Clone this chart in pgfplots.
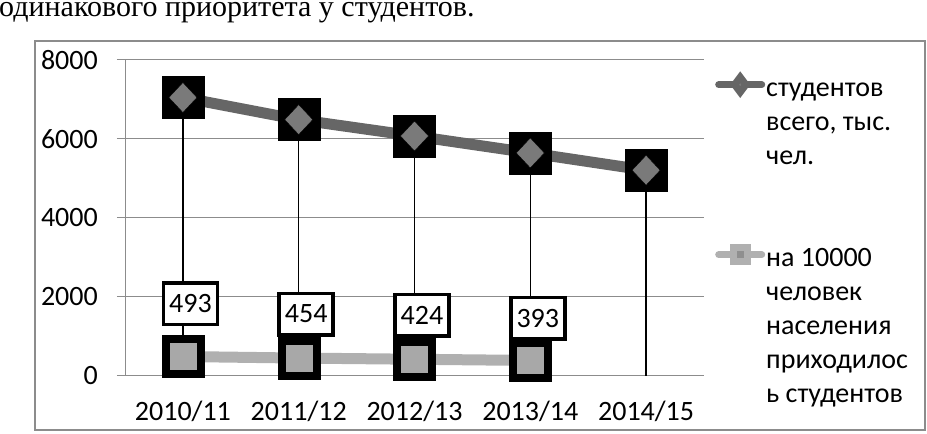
\documentclass[border=0pt]{standalone}
\usepackage{fontspec}
\setmainfont{Carlito}
\newfontfamily\timesf{Liberation Serif}
\usepackage{pgfplots}
\pgfplotsset{compat=1.18}
\usepackage{pgfplotstable}
\definecolor{sone}{HTML}{666666}
\definecolor{stwo}{HTML}{B0B0B0}
\definecolor{mone}{HTML}{7A7A7A}
\definecolor{mtwo}{HTML}{A8A8A8}
\definecolor{gridc}{HTML}{8C8C8C}
\definecolor{framec}{HTML}{8C8C8C}

\pgfplotstableread{
x y
0 7050
1 6490
2 6075
3 5647
4 5209
}\tone
\pgfplotstableread{
x y dy
0 493 53
1 454 44
2 424 44
3 393 42
}\ttwo

\begin{document}
\begin{tikzpicture}[x=1bp,y=1bp]
\useasboundingbox (0,0) rectangle (927,434);
\draw[framec, line width=1.5bp] (35,4) rectangle (925,393);
\node[anchor=base west, inner sep=0pt, font=\timesf\fontsize{30bp}{36bp}\selectfont] at (-1,417) {одинакового приоритета у студентов.};
\begin{axis}[
 at={(125bp,58bp)}, anchor=south west,
 scale only axis, width=579bp, height=316bp,
 xmin=-0.5, xmax=4.5, ymin=0, ymax=8000,
 axis lines*=left,
 axis line style={gridc, line width=1bp},
 ymajorgrids, grid style={gridc, line width=1bp},
 ytick={0,2000,4000,6000,8000},
 xtick={0,1,2,3,4},
 xticklabels={2010/11,2011/12,2012/13,2013/14,2014/15},
 tick align=outside,
 major tick length=8bp,
 ytick style={gridc, line width=1bp},
 xtick style={draw=none},
 tick label style={font=\fontsize{28bp}{34bp}\selectfont, inner sep=0pt},
 yticklabel style={anchor=east, xshift=-19bp},
 xticklabel style={anchor=north, yshift=-17bp},
 /pgf/number format/assume math mode=true,
 /pgf/number format/1000 sep={},
 scaled y ticks=false,
 clip=false,
 legend style={at={(1.019,0.9614)}, anchor=north west, draw=none, fill=none,
   inner sep=0pt, row sep=0pt, column sep=1bp,
   cells={anchor=base west},
   nodes={inner sep=0pt, text height=23.8bp, text depth=10.2bp},
   font=\fontsize{28bp}{34bp}\selectfont},
 legend image code/.code={\draw[mark repeat=2,mark phase=2,#1, line cap=round] plot coordinates {(3.5bp,11.5bp) (25bp,11.5bp) (46.5bp,11.5bp)};},
]
% black backing squares
\addplot[only marks, mark=square*, mark size=21bp, mark options={fill=black, draw=none}, forget plot] table[x=x,y=y]{\tone};
\addplot[only marks, mark=square*, mark size=21bp, mark options={fill=black, draw=none}, forget plot] table[x=x,y=y]{\ttwo};
% lines
\addplot[sone, line width=11bp, mark=none, forget plot] table[x=x,y=y]{\tone};
\addplot[stwo, line width=11bp, mark=none, forget plot] table[x=x,y=y]{\ttwo};
% inner markers
\addplot[only marks, mark=diamond*, mark size=15bp, mark options={fill=mone, draw=none, xscale=1.25}, forget plot] table[x=x,y=y]{\tone};
\addplot[only marks, mark=square*, mark size=14bp, mark options={fill=mtwo, draw=none}, forget plot] table[x=x,y=y]{\ttwo};
% drop lines
\addplot[ycomb, black, line width=1.3bp, mark=none, forget plot] table[x=x,y=y]{\tone};
% labels
\addplot[only marks, mark=none, forget plot, point meta=explicit,
  visualization depends on={\thisrow{dy} \as \labdy},
  nodes near coords,
  nodes near coords style={anchor=center, xshift=7.5bp, yshift=\labdy bp, fill=white, draw=black, text=black,
    line width=3.5bp, minimum width=54bp, minimum height=41.5bp, inner sep=0pt,
    font=\fontsize{28bp}{34bp}\selectfont}]
  table[x=x,y=y,meta=y]{\ttwo};

\addlegendimage{sone, line width=7bp, mark=diamond*, mark size=7.5bp, mark options={fill=mone, draw=none}}
\addlegendentry{студентов}
\addlegendimage{empty legend}\addlegendentry{всего, тыс.}
\addlegendimage{empty legend}\addlegendentry{чел.}
\addlegendimage{empty legend}\addlegendentry{\strut}
\addlegendimage{empty legend}\addlegendentry{\strut}
\addlegendimage{stwo, line width=7bp, mark=square*, mark size=7bp, mark options={fill=mtwo!85!black, draw=none}}
\addlegendentry{на 10000}
\addlegendimage{empty legend}\addlegendentry{человек}
\addlegendimage{empty legend}\addlegendentry{населения}
\addlegendimage{empty legend}\addlegendentry{приходилос}
\addlegendimage{empty legend}\addlegendentry{ь студентов}
\end{axis}
\end{tikzpicture}
\end{document}
